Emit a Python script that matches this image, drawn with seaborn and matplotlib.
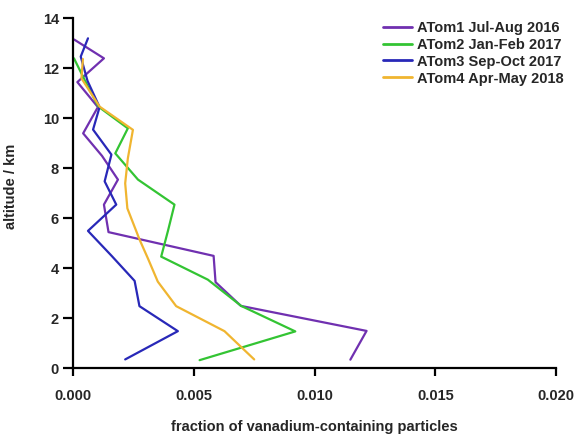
import matplotlib
matplotlib.use("Agg")
import matplotlib.pyplot as plt
import seaborn as sns
import pandas as pd

# ---- data ----
atom1_alt = [0.35, 1.5, 2.5, 3.45, 4.5, 5.45, 6.55, 7.55, 8.5, 9.4, 10.45, 11.45, 12.4, 13.15]
atom1_frac = [0.01148, 0.01215, 0.00695, 0.0059, 0.00582, 0.00147, 0.00128, 0.00186, 0.0012, 0.00042, 0.00103, 0.00018, 0.00128, 0.00005]

atom2_alt = [0.33, 1.48, 2.5, 3.55, 4.47, 5.5, 6.55, 7.55, 8.6, 9.6, 10.47, 11.5, 12.4]
atom2_frac = [0.00524, 0.0092, 0.00696, 0.00558, 0.00365, 0.00393, 0.0042, 0.00269, 0.00175, 0.00227, 0.00105, 0.0005, 0.00004]

atom3_alt = [0.36, 1.49, 2.49, 3.5, 4.5, 5.5, 6.55, 7.48, 8.55, 9.55, 10.45, 11.5, 12.47, 13.2]
atom3_frac = [0.00216, 0.00434, 0.00275, 0.00255, 0.0016, 0.00062, 0.00179, 0.00131, 0.00159, 0.00083, 0.0011, 0.0006, 0.00032, 0.00062]

atom4_alt = [0.36, 1.49, 2.49, 3.47, 4.4, 5.14, 6.4, 7.4, 8.4, 9.54, 10.47, 11.6, 12.37]
atom4_frac = [0.0075, 0.00627, 0.00427, 0.00351, 0.0031, 0.00276, 0.00225, 0.00216, 0.00227, 0.00248, 0.0011, 0.00035, 0.00041]

campaigns = ["ATom1 Jul-Aug 2016", "ATom2 Jan-Feb 2017", "ATom3 Sep-Oct 2017", "ATom4 Apr-May 2018"]
colors = ["#7030B0", "#33C433", "#2828B8", "#F0B530"]

x_ticks = [0.000, 0.005, 0.010, 0.015, 0.020]
y_ticks = [0, 2, 4, 6, 8, 10, 12, 14]

# ---- build table ----
frames = []
for name, alt, frac in zip(campaigns,
                           [atom1_alt, atom2_alt, atom3_alt, atom4_alt],
                           [atom1_frac, atom2_frac, atom3_frac, atom4_frac]):
    frames.append(pd.DataFrame({"campaign": name, "altitude": alt, "fraction": frac}))
df = pd.concat(frames, ignore_index=True)

sns.set_style("ticks")
plt.rcParams["font.family"] = ["Liberation Sans", "DejaVu Sans"]

FS = 10.5

fig = plt.figure(figsize=(5.78, 4.36), dpi=100)
ax = fig.add_axes([0.1263, 0.155, 0.836, 0.803])

sns.lineplot(data=df, x="fraction", y="altitude", hue="campaign",
             palette=dict(zip(campaigns, colors)), sort=False, estimator=None,
             orient="y", linewidth=1.6, ax=ax)

ax.set_xlim(0, 0.020)
ax.set_ylim(0, 14)
ax.set_xticks(x_ticks)
ax.set_xticklabels([f"{t:.3f}" for t in x_ticks])
ax.set_yticks(y_ticks)
ax.set_yticklabels([str(t) for t in y_ticks])
for lab in ax.get_xticklabels() + ax.get_yticklabels():
    lab.set_fontweight("bold")
    lab.set_fontsize(FS)
ax.tick_params(axis="x", direction="out", length=6, width=1.6, color="black", pad=9)
ax.tick_params(axis="y", direction="out", length=7, width=1.6, color="black", pad=3)
for s in ["left", "bottom"]:
    ax.spines[s].set_linewidth(1.6)
    ax.spines[s].set_color("black")
sns.despine(ax=ax)

ax.set_xlabel("fraction of vanadium-containing particles", fontsize=FS, fontweight="bold", labelpad=12)
ax.set_ylabel("altitude / km", fontsize=FS, fontweight="bold", labelpad=12)
ax.yaxis.set_label_coords(-0.113, 0.52)

leg = ax.legend(loc="upper left", bbox_to_anchor=(0.641, 0.993), frameon=False,
                prop={"size": FS, "weight": "bold"}, handlelength=2.0,
                handletextpad=0.35, labelspacing=0.2, borderpad=0, borderaxespad=0)
for h in leg.get_lines():
    h.set_linewidth(2)

fig.savefig("out.png", dpi=100)
